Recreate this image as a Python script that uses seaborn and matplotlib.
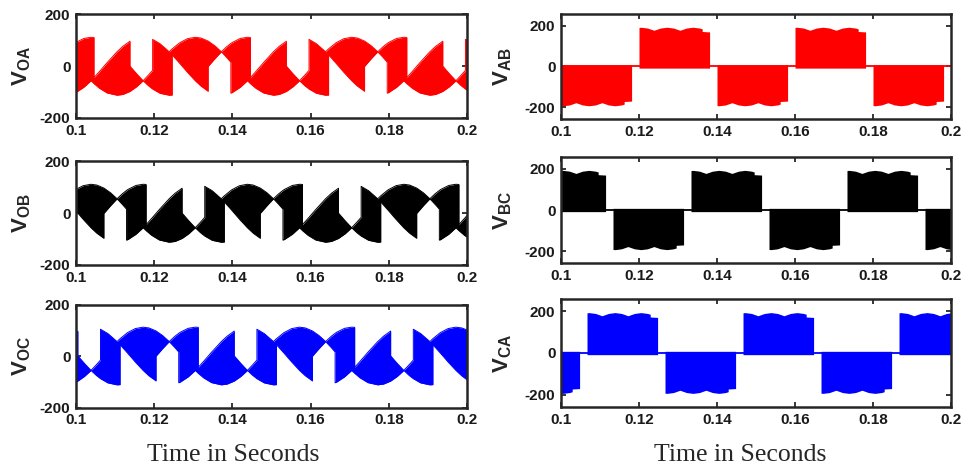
import numpy as np
import pandas as pd
import seaborn as sns
import matplotlib
matplotlib.use("Agg")
import matplotlib.pyplot as plt

# -------------------------
# 1. Data (time in ms, voltage in V)
# -------------------------
# phase voltages: upper / lower edge of the switching band
t_oa = [100, 102, 103.83, 104.6, 104.6, 106, 108, 110.5, 112, 113.8, 113.8, 115.5, 117.17, 118.5, 119.6, 119.6,
        121.5, 123.83, 124.6, 124.6, 126.5, 128.5, 130.5, 132, 133.8, 133.8, 135.5, 137.17, 138.5, 139.6, 139.6,
        140, 142, 143.83, 144.6, 144.6, 146, 148, 150.5, 152, 153.8, 153.8, 155.5, 157.17, 158.5, 159.6, 159.6,
        161.5, 163.83, 164.6, 164.6, 166.5, 168.5, 170.5, 172, 173.8, 173.8, 175.5, 177.17, 178.5, 179.6, 179.6,
        180, 182, 183.83, 184.6, 184.6, 186, 188, 190.5, 192, 193.8, 193.8, 195.5, 197.17, 198.5, 199.6, 199.6, 200]
oa_top = [92.3, 107.4, 112, 111.2, -43.9, -20.4, 14.6, 56, 77.1, 96.7, 0.6, -29, -56, -34.6, -15.8, 103.9,
          87, 56, 67.2, 67.2, 90.6, 106.5, 112, 108.9, 97.3, 97.3, 79.2, 56, 75, 88.1, 88.1,
          92.3, 107.4, 112, 111.2, -43.9, -20.4, 14.6, 56, 77.1, 96.7, 0.6, -29, -56, -34.6, -15.8, 103.9,
          87, 56, 67.2, 67.2, 90.6, 106.5, 112, 108.9, 97.3, 97.3, 79.2, 56, 75, 88.1, 88.1,
          92.3, 107.4, 112, 111.2, -43.9, -20.4, 14.6, 56, 77.1, 96.7, 0.6, -29, -56, -34.6, -15.8, 103.9, 101.1]
oa_bot = [-101.1, -81.2, -56, -67.2, -67.2, -85.2, -103.5, -112, -108.9, -97.3, -97.3, -79.2, -56, -75, -88.1, -88.1,
          -104.6, -112, -111.2, 43.9, 11.7, -23.3, -56, -77.1, -96.7, -0.6, 29, 56, 34.6, 15.8, -103.9,
          -101.1, -81.2, -56, -67.2, -67.2, -85.2, -103.5, -112, -108.9, -97.3, -97.3, -79.2, -56, -75, -88.1, -88.1,
          -104.6, -112, -111.2, 43.9, 11.7, -23.3, -56, -77.1, -96.7, -0.6, 29, 56, 34.6, 15.8, -103.9,
          -101.1, -81.2, -56, -67.2, -67.2, -85.2, -103.5, -112, -108.9, -97.3, -97.3, -79.2, -56, -75, -88.1, -88.1, -92.3]

t_ob = [100, 101.83, 103.83, 105.33, 107.13, 107.13, 108.83, 110.5, 111.83, 112.93, 112.93,
        113.33, 115.33, 117.16, 117.93, 117.93, 119.33, 121.33, 123.83, 125.33, 127.13, 127.13, 128.83, 130.5, 131.83,
        132.93, 132.93, 134.83, 137.16, 137.93, 137.93, 139.83, 141.83, 143.83, 145.33, 147.13, 147.13, 148.83, 150.5,
        151.83, 152.93, 152.93,
        153.33, 155.33, 157.16, 157.93, 157.93, 159.33, 161.33, 163.83, 165.33, 167.13, 167.13, 168.83, 170.5, 171.83,
        172.93, 172.93, 174.83, 177.16, 177.93, 177.93, 179.83, 181.83, 183.83, 185.33, 187.13, 187.13, 188.83, 190.5,
        191.83, 192.93, 192.93,
        193.33, 195.33, 197.16, 197.93, 197.93, 199.33, 200]
ob_top = [92.3, 106.5, 112, 108.9, 97.3, 97.3, 79.2, 56, 75, 88.1, 88.1,
          92.3, 107.4, 112, 111.2, -43.9, -20.4, 14.6, 56, 77.1, 96.7, 0.6, -29, -56, -34.6, -15.8, 103.9,
          87, 56, 67.2, 67.2, 90.6, 106.5, 112, 108.9, 97.3, 97.3, 79.2, 56, 75, 88.1, 88.1,
          92.3, 107.4, 112, 111.2, -43.9, -20.4, 14.6, 56, 77.1, 96.7, 0.6, -29, -56, -34.6, -15.8, 103.9,
          87, 56, 67.2, 67.2, 90.6, 106.5, 112, 108.9, 97.3, 97.3, 79.2, 56, 75, 88.1, 88.1,
          92.3, 107.4, 112, 111.2, -43.9, -20.4, -8.8]
ob_bot = [8.8, -23.3, -56, -77.1, -96.7, -0.6, 29, 56, 34.6, 15.8, -103.9,
          -101.1, -81.2, -56, -67.2, -67.2, -85.2, -103.5, -112, -108.9, -97.3, -97.3, -79.2, -56, -75, -88.1, -88.1,
          -104.6, -112, -111.2, 43.9, 11.7, -23.3, -56, -77.1, -96.7, -0.6, 29, 56, 34.6, 15.8, -103.9,
          -101.1, -81.2, -56, -67.2, -67.2, -85.2, -103.5, -112, -108.9, -97.3, -97.3, -79.2, -56, -75, -88.1, -88.1,
          -104.6, -112, -111.2, 43.9, 11.7, -23.3, -56, -77.1, -96.7, -0.6, 29, 56, 34.6, 15.8, -103.9,
          -101.1, -81.2, -56, -67.2, -67.2, -85.2, -92.3]

t_oc = [100, 100.47, 100.47, 102.17, 103.84, 105.17, 106.27, 106.27, 108.17, 110.5, 111.27, 111.27, 113.17, 115.17,
        117.17, 118.67, 120.47, 120.47, 122.17, 123.84, 125.17, 126.27, 126.27,
        126.67, 128.67, 130.5, 131.27, 131.27, 132.67, 134.67, 137.17, 138.67, 140.47, 140.47, 142.17, 143.84, 145.17,
        146.27, 146.27, 148.17, 150.5, 151.27, 151.27, 153.17, 155.17, 157.17, 158.67, 160.47, 160.47, 162.17, 163.84,
        165.17, 166.27, 166.27,
        166.67, 168.67, 170.5, 171.27, 171.27, 172.67, 174.67, 177.17, 178.67, 180.47, 180.47, 182.17, 183.84, 185.17,
        186.27, 186.27, 188.17, 190.5, 191.27, 191.27, 193.17, 195.17, 197.17, 198.67, 200]
oc_top = [92.3, 96.7, 0.6, -29, -56, -34.6, -15.8, 103.9, 87, 56, 67.2, 67.2, 90.6, 106.5,
          112, 108.9, 97.3, 97.3, 79.2, 56, 75, 88.1, 88.1,
          92.3, 107.4, 112, 111.2, -43.9, -20.4, 14.6, 56, 77.1, 96.7, 0.6, -29, -56, -34.6,
          -15.8, 103.9, 87, 56, 67.2, 67.2, 90.6, 106.5, 112, 108.9, 97.3, 97.3, 79.2, 56,
          75, 88.1, 88.1,
          92.3, 107.4, 112, 111.2, -43.9, -20.4, 14.6, 56, 77.1, 96.7, 0.6, -29, -56, -34.6,
          -15.8, 103.9, 87, 56, 67.2, 67.2, 90.6, 106.5, 112, 108.9, 101.1]
oc_bot = [-101.1, -97.3, -97.3, -79.2, -56, -75, -88.1, -88.1, -104.6, -112, -111.2, 43.9, 11.7, -23.3,
          -56, -77.1, -96.7, -0.6, 29, 56, 34.6, 15.8, -103.9,
          -101.1, -81.2, -56, -67.2, -67.2, -85.2, -103.5, -112, -108.9, -97.3, -97.3, -79.2, -56, -75,
          -88.1, -88.1, -104.6, -112, -111.2, 43.9, 11.7, -23.3, -56, -77.1, -96.7, -0.6, 29, 56,
          34.6, 15.8, -103.9,
          -101.1, -81.2, -56, -67.2, -67.2, -85.2, -103.5, -112, -108.9, -97.3, -97.3, -79.2, -56, -75,
          -88.1, -88.1, -104.6, -112, -111.2, 43.9, 11.7, -23.3, -56, -77.1, -92.3]

# line voltages: every block has the same scalloped envelope (offset in ms from block start, |V|)
blk_dt = [0, 0.5, 2.17, 3.83, 5.5, 7.17, 8.83, 10.5, 12.17, 13.83, 15.5, 16.2, 16.2, 18.1]
blk_amp = [192, 193, 189, 178, 189, 193, 189, 178, 189, 193, 189, 185, 172, 170]
blk_under = 8  # band pokes slightly past zero on the other side
ab_start = [100, 120, 140, 160, 180]
ab_sign = [-1, 1, -1, 1, -1]
bc_start = [93.33, 113.33, 133.33, 153.33, 173.33, 193.33]
bc_sign = [1, -1, 1, -1, 1, -1]
ca_start = [86.67, 106.67, 126.67, 146.67, 166.67, 186.67]
ca_sign = [-1, 1, -1, 1, -1, 1]

x_ticks = [0.1, 0.12, 0.14, 0.16, 0.18, 0.2]
x_labels = ["0.1", "0.12", "0.14", "0.16", "0.18", "0.2"]
y_ticks = [-200, 0, 200]
y_labels = ["-200", "0", "200"]

# -------------------------
# 2. Style
# -------------------------
sns.set_style("ticks")
plt.rcParams["font.family"] = ["Liberation Sans", "DejaVu Sans"]
plt.rcParams["mathtext.fontset"] = "custom"
plt.rcParams["mathtext.rm"] = "Liberation Sans"
plt.rcParams["mathtext.bf"] = "Liberation Sans:bold"

W, H = 965, 473
fig = plt.figure(figsize=(W / 100, H / 100), dpi=100)


def add_ax(x0, x1, y0, y1):
    return fig.add_axes([x0 / W, 1 - y1 / H, (x1 - x0) / W, (y1 - y0) / H])


def band(ax, t_ms, top, bot, color):
    d = pd.DataFrame({"t": np.array(t_ms) / 1000, "top": top, "bot": bot})
    ax.fill_between(d["t"], d["bot"], d["top"], color=color, lw=0)
    for col in ["top", "bot"]:
        sns.lineplot(data=d, x="t", y=col, ax=ax, color=color, lw=0.7,
                     estimator=None, sort=False)


def blocks(ax, starts, signs, color):
    dt = np.array(blk_dt)
    amp = np.array(blk_amp)
    for s, sg in zip(starts, signs):
        tt = (s + dt) / 1000
        if sg > 0:
            ax.fill_between(tt, -blk_under, amp, color=color, lw=0)
        else:
            ax.fill_between(tt, -amp, blk_under, color=color, lw=0)
    ax.axhline(0, color=color, lw=1.3)


def finish(ax, label, ylim, label_x):
    ax.set_xlim(0.1, 0.2)
    ax.set_ylim(*ylim)
    ax.set_xticks(x_ticks)
    ax.set_xticklabels(x_labels, fontweight="bold")
    ax.set_yticks(y_ticks)
    ax.set_yticklabels(y_labels, fontweight="bold")
    ax.tick_params(direction="in", top=True, right=True, length=3.5, width=1.3,
                   labelsize=11, pad=4, labelcolor="#1a1a1a", color="#262626")
    for sp in ax.spines.values():
        sp.set_linewidth(1.8)
        sp.set_color("#262626")
        sp.set_visible(True)
    ax.set_xlabel("")
    ax.set_ylabel(label, fontsize=16)
    ax.yaxis.set_label_coords(label_x, 0.5)
    ax.yaxis.label.set_va("center")


# -------------------------
# 3. Panels
# -------------------------
left_rows = [(14.5, 118), (161.5, 265), (304.5, 407.5)]
right_rows = [(14, 119), (157, 263), (299, 407)]

phase = [(t_oa, oa_top, oa_bot, "#ff0000", r"$\mathbf{V_{OA}}$"),
         (t_ob, ob_top, ob_bot, "#000000", r"$\mathbf{V_{OB}}$"),
         (t_oc, oc_top, oc_bot, "#0000ff", r"$\mathbf{V_{OC}}$")]
line = [(ab_start, ab_sign, "#ff0000", r"$\mathbf{V_{AB}}$"),
        (bc_start, bc_sign, "#000000", r"$\mathbf{V_{BC}}$"),
        (ca_start, ca_sign, "#0000ff", r"$\mathbf{V_{CA}}$")]

for (y0, y1), (t, top, bot, c, lab) in zip(left_rows, phase):
    ax = add_ax(76, 467, y0, y1)
    band(ax, t, top, bot, c)
    finish(ax, lab, (-200, 200), -0.14)

for (y0, y1), (st, sg, c, lab) in zip(right_rows, line):
    ax = add_ax(561, 951, y0, y1)
    blocks(ax, st, sg, c)
    finish(ax, lab, (-258, 258), -0.15)

fig.text(233 / W, 1 - 455 / H, "Time in Seconds", family=["Liberation Serif"],
         fontsize=18.5, ha="center", va="center")
fig.text(740 / W, 1 - 455 / H, "Time in Seconds", family=["Liberation Serif"],
         fontsize=18.5, ha="center", va="center")

fig.savefig("out.png", dpi=100)
